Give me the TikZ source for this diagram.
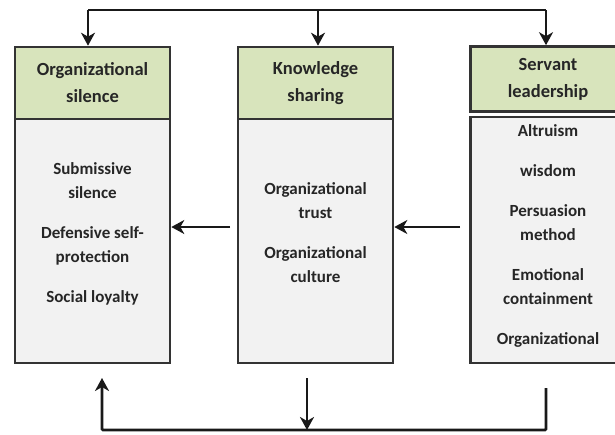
\documentclass[tikz,border=0pt]{standalone}
\usepackage{fontspec}
\setmainfont{Carlito}
\usetikzlibrary{arrows.meta}
\definecolor{hdrgreen}{HTML}{D8E4BC}
\definecolor{bodygray}{HTML}{F2F2F2}
\definecolor{edgegray}{HTML}{333333}
\definecolor{txtgray}{HTML}{262626}
\tikzset{
  hdr/.style={draw=edgegray, line width=2.6pt, fill=hdrgreen, minimum width=155pt, inner sep=0pt},
  bodybox/.style={draw=edgegray, line width=2.6pt, fill=bodygray, minimum width=155pt, inner sep=0pt},
  hdrtext/.style={align=center, text=txtgray, font=\fontsize{18.5}{27}\selectfont\bfseries},
  bodytext/.style={align=center, text=txtgray, font=\fontsize{17}{24}\selectfont\bfseries},
  conn/.style={line width=2.8pt, draw=black!90},
  arr/.style={conn, -{Stealth[length=13pt,width=14pt,inset=4pt]}}
}
\begin{document}
\begin{tikzpicture}[x=1pt,y=-1pt]
\useasboundingbox (0,0) rectangle (615,434);
\clip (0,0) rectangle (615,434);
% left box
\node[bodybox, minimum height=244pt] (lb) at (92.5,241) {};
\node[hdr, minimum height=72pt] (lh) at (92.5,83) {};
\node[hdrtext] (lht) at (92.5,83) {Organizational\\silence};
\node[bodytext] (lbt) at (92.5,234) {Submissive\\silence\\[16pt]Defensive self-\\protection\\[16pt]Social loyalty};
% middle box
\node[bodybox, minimum height=244pt] (mb) at (315.5,241) {};
\node[hdr, minimum height=72pt] (mh) at (315.5,83) {};
\node[hdrtext] (mht) at (315.5,83) {Knowledge\\sharing};
\node[bodytext] (mbt) at (315.5,233) {Organizational\\trust\\[16pt]Organizational\\culture};
% right box
\node[bodybox, minimum height=246pt] (rb) at (548,240) {};
\node[hdr, minimum height=65pt] (rh) at (548,79) {};
\node[hdrtext] (rht) at (548,79) {Servant\\leadership};
\node[bodytext] (rbt) at (548,236) {Altruism\\[16pt]wisdom\\[16pt]Persuasion\\method\\[16pt]Emotional\\containment\\[16pt]Organizational};
% top connector
\coordinate (t1) at (88,10);
\coordinate (t2) at (318,10);
\coordinate (t3) at (546,10);
\draw[conn] (t1) -- (t3);
\draw[arr] (t1) -- (t1 |- lh.north);
\draw[arr] (t2) -- (t2 |- mh.north);
\draw[arr] (t3) -- (t3 |- rh.north);
% horizontal arrows
\coordinate (h1) at (230,227);
\coordinate (h2) at (460,227);
\draw[arr] (h1) -- (h1 -| lb.east);
\draw[arr] (h2) -- (h2 -| mb.east);
% bottom connector
\coordinate (b3) at (546,388);
\coordinate (b3b) at (546,430);
\coordinate (b1b) at (102,430);
\coordinate (b1) at (102,378);
\coordinate (b2) at (307,378);
\draw[arr, rounded corners=1pt] (b3) -- (b3b) -- (b1b) -- (b1);
\draw[arr] (b2) -- (b2 |- b1b);
\end{tikzpicture}
\end{document}
